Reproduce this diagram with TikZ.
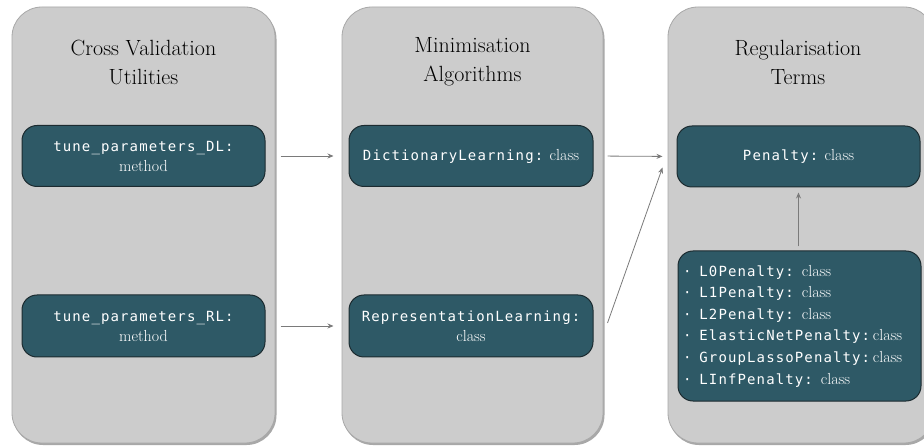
\documentclass[tikz,border=0pt]{standalone}
\usepackage{fontspec}
\newfontfamily\codefont[LetterSpace=8]{DejaVu Sans Mono}
\usetikzlibrary{arrows.meta}
\definecolor{panelgray}{HTML}{CCCCCC}
\definecolor{panelshadow}{HTML}{A8A8A8}
\definecolor{teal}{HTML}{2E5966}
\definecolor{tealborder}{HTML}{1C2B30}
\definecolor{arrowgray}{HTML}{7A7A7A}
\tikzset{
  panel/.style={fill=panelgray, draw=panelshadow, line width=0.8pt, rounded corners=30pt},
  paneltitle/.style={font=\fontsize{22}{29}\selectfont, align=center, text=black},
  classbox/.style={fill=teal, draw=tealborder, line width=1pt, rounded corners=15pt,
    text=white, align=center, font=\fontsize{16}{20}\selectfont, inner sep=0pt},
  conn/.style={draw=arrowgray, line width=0.8pt, -{Stealth[length=6pt,width=5pt]}}
}
\newcommand{\cd}[1]{{\codefont\fontsize{14}{20}\selectfont #1}}
\newcommand{\bul}{{\codefont\fontsize{14}{20}\selectfont\textperiodcentered}\hspace{8pt}}
\begin{document}
\begin{tikzpicture}[x=1pt,y=-1pt]
\useasboundingbox (0,0) rectangle (924,446);
\clip (0,0) rectangle (924,446);
\fill[white] (0,0) rectangle (924,446);
% shadows
\foreach \a/\b in {12/275, 342/603, 668/934}{
  \fill[panelshadow, rounded corners=30pt] (\a+1,9) rectangle (\b+1.5,445);
}
% panels
\draw[panel] (12,7) rectangle (275,443);
\draw[panel] (342,7) rectangle (603,443);
\draw[panel] (668,7) rectangle (934,443);
% titles
\node[paneltitle] (t1) at (143.5,62) {Cross Validation\\Utilities};
\node[paneltitle] (t2) at (472.5,62) {Minimisation\\Algorithms};
\node[paneltitle] (t3) at (798,62) {Regularisation\\Terms};
% boxes
\node[classbox, minimum width=243pt, minimum height=61pt] (dlm) at (143.5,156) {\cd{tune\_parameters\_DL:}\\method};
\node[classbox, minimum width=243pt, minimum height=62pt] (rlm) at (143.5,326) {\cd{tune\_parameters\_RL:}\\method};
\node[classbox, minimum width=244pt, minimum height=61pt] (dlc) at (471,156) {\cd{DictionaryLearning:} class};
\node[classbox, minimum width=244pt, minimum height=62pt] (rlc) at (471,326) {\cd{RepresentationLearning:}\\class};
\node[classbox, minimum width=243pt, minimum height=61pt] (pen) at (798.5,156.5) {\cd{Penalty:} class};
\node[classbox, minimum width=243pt, minimum height=150pt, align=left, text width=233pt,
  font=\fontsize{16}{21.6}\selectfont] (lst) at (799.5,326) {%
\bul\cd{L0Penalty:} class\\
\bul\cd{L1Penalty:} class\\
\bul\cd{L2Penalty:} class\\
\bul\cd{ElasticNetPenalty:}\,class\\
\bul\cd{GroupLassoPenalty:}\,class\\
\bul\cd{LInfPenalty:} class};
% connectors
\draw[conn, shorten <=15pt, shorten >=15pt] (dlm.east) -- (dlc.west);
\draw[conn, shorten <=15pt, shorten >=15pt] (rlm.east) -- (rlc.west);
\draw[conn, shorten <=14pt, shorten >=14pt] (dlc.east) -- (pen.west);
\draw[conn] ([xshift=14pt,yshift=3pt]rlc.east) -- ([xshift=-14pt,yshift=-11pt]pen.west);
\draw[conn, shorten <=4pt, shorten >=5pt] (lst.north -| pen.south) -- (pen.south);
\end{tikzpicture}
\end{document}
